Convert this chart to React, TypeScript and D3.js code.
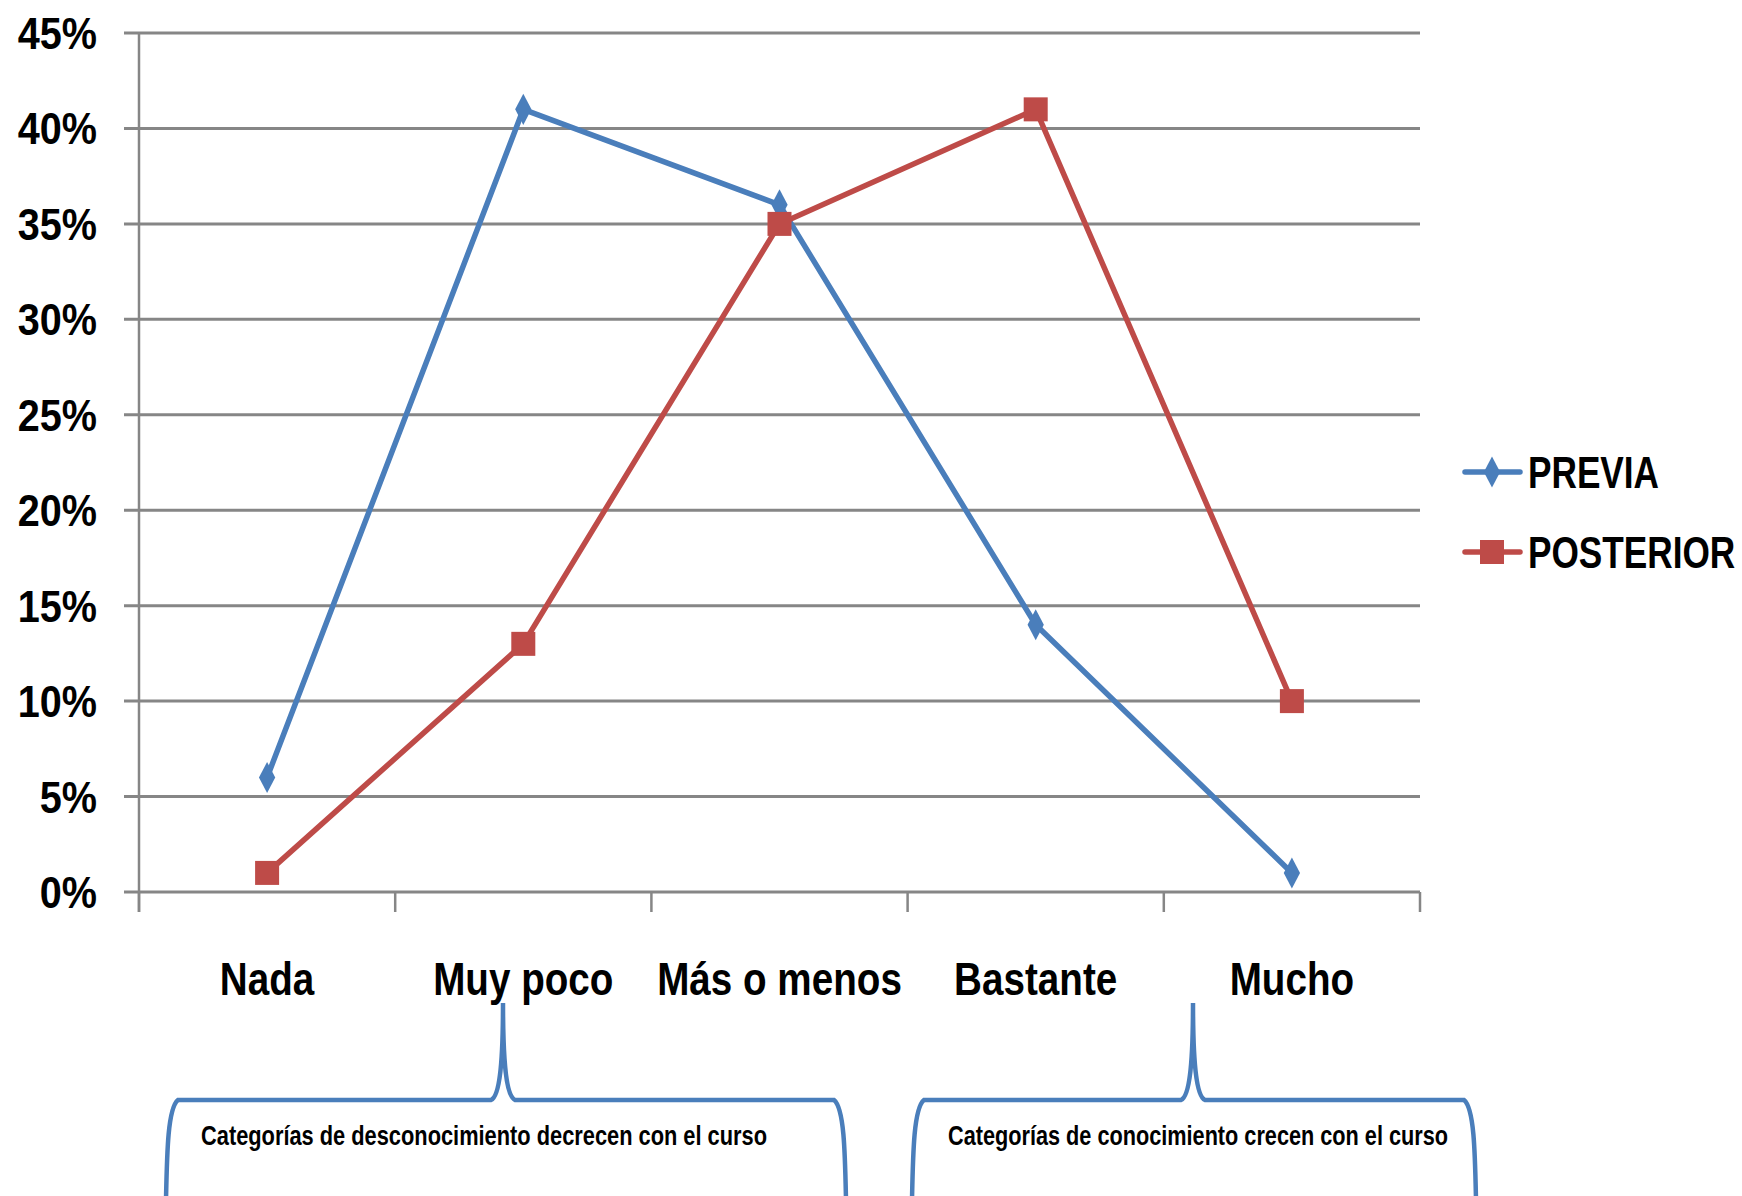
import React from "react";
import * as d3 from "d3";

const categories = ["Nada", "Muy poco", "Más o menos", "Bastante", "Mucho"];
const previa = [0.06, 0.41, 0.36, 0.14, 0.01];
const posterior = [0.01, 0.13, 0.35, 0.41, 0.1];
const yTicks = [0, 0.05, 0.1, 0.15, 0.2, 0.25, 0.3, 0.35, 0.4, 0.45];
const seriesNames = ["PREVIA", "POSTERIOR"];
const braceTexts = [
  "Categorías de desconocimiento decrecen con el curso",
  "Categorías de conocimiento crecen con el curso",
];

const W = 1742;
const H = 1196;
const BLUE = "#4A7EBB";
const RED = "#BE4B48";
const GRID = "#868686";
const FONT = "'Liberation Sans', Arial, sans-serif";

function bracePath(x0: number, x1: number, xp: number, yTop: number, yPeak: number, yBot: number) {
  return [
    `M ${x0 - 6} ${yBot}`,
    `C ${x0 - 5} ${yTop + 50} ${x0 - 4} ${yTop + 8} ${x0 + 6} ${yTop}`,
    `L ${xp - 12} ${yTop}`,
    `C ${xp - 3} ${yTop - 4} ${xp} ${yTop - 40} ${xp} ${yPeak}`,
    `C ${xp} ${yTop - 40} ${xp + 3} ${yTop - 4} ${xp + 12} ${yTop}`,
    `L ${x1 - 6} ${yTop}`,
    `C ${x1 + 4} ${yTop + 8} ${x1 + 5} ${yTop + 50} ${x1 + 6} ${yBot}`,
  ].join(" ");
}

type TProps = {
  x: number;
  y: number;
  sx: number;
  size: number;
  anchor?: "start" | "middle" | "end";
  children: React.ReactNode;
  textLength?: number;
};

function CText({ x, y, sx, size, anchor = "start", children, textLength }: TProps) {
  return (
    <text
      transform={`translate(${x},${y}) scale(${sx},1)`}
      textAnchor={anchor}
      fontFamily={FONT}
      fontWeight="bold"
      fontSize={size}
      fill="#000"
      textLength={textLength}
      lengthAdjust={textLength ? "spacingAndGlyphs" : undefined}
    >
      {children}
    </text>
  );
}

export default function App() {
  const left = 139;
  const right = 1420;
  const y = d3.scaleLinear().domain([0, 0.45]).range([892, 33]);
  const x = d3.scaleBand<string>().domain(categories).range([left, right]).padding(0);
  const cx = (c: string) => (x(c) as number) + x.bandwidth() / 2;

  const line = d3
    .line<number>()
    .x((_, i) => cx(categories[i]))
    .y((v) => y(v));

  const boundaries = [...categories.map((c) => x(c) as number), right];

  const diamond = d3.symbol().type(d3.symbolDiamond).size(230);

  const braces = [
    { x0: 172, x1: 840, xp: 503, text: braceTexts[0], tx: 201, tw: 566 },
    { x0: 918, x1: 1470, xp: 1193, text: braceTexts[1], tx: 948, tw: 500 },
  ];

  return (
    <svg
      width={W}
      height={H}
      viewBox={`0 0 ${W} ${H}`}
      style={{ position: "absolute", left: 0, top: 0, background: "#fff" }}
    >
      <rect x={0} y={0} width={W} height={H} fill="#fff" />
      {/* gridlines */}
      {yTicks.map((t) => (
        <line key={t} x1={left - 15} x2={right} y1={y(t)} y2={y(t)} stroke={GRID} strokeWidth={3} />
      ))}
      {/* y axis */}
      <line x1={left} x2={left} y1={y(0.45)} y2={y(0) + 20} stroke={GRID} strokeWidth={2.5} />
      {boundaries.map((b, i) => (
        <line key={i} x1={b} x2={b} y1={y(0)} y2={y(0) + 20} stroke={GRID} strokeWidth={2.5} />
      ))}
      {/* y labels */}
      {yTicks.map((t) => (
        <CText key={t} x={97} y={y(t) + 16} sx={0.9} size={44} anchor="end">
          {`${Math.round(t * 100)}%`}
        </CText>
      ))}
      {/* x labels */}
      {categories.map((c) => (
        <CText key={c} x={cx(c)} y={995} sx={0.84} size={46} anchor="middle">
          {c}
        </CText>
      ))}
      {/* series lines */}
      <path d={line(previa) || ""} fill="none" stroke={BLUE} strokeWidth={5.5} strokeLinejoin="round" />
      <path d={line(posterior) || ""} fill="none" stroke={RED} strokeWidth={5.5} strokeLinejoin="round" />
      {previa.map((v, i) => (
        <path
          key={i}
          d={diamond() || ""}
          transform={`translate(${cx(categories[i])},${y(v)}) scale(1,1.1)`}
          fill={BLUE}
        />
      ))}
      {posterior.map((v, i) => (
        <rect key={i} x={cx(categories[i]) - 12} y={y(v) - 12} width={24} height={24} fill={RED} />
      ))}
      {/* legend */}
      {seriesNames.map((s, i) => {
        const ly = 472 + i * 80;
        const col = i === 0 ? BLUE : RED;
        return (
          <g key={s}>
            <line x1={1465} x2={1520} y1={ly} y2={ly} stroke={col} strokeWidth={5.5} strokeLinecap="round" />
            {i === 0 ? (
              <path d={diamond() || ""} transform={`translate(1492,${ly}) scale(1,1.1)`} fill={col} />
            ) : (
              <rect x={1480} y={ly - 12} width={24} height={24} fill={col} />
            )}
            <CText x={1528} y={ly + 16} sx={0.8} size={44}>
              {s}
            </CText>
          </g>
        );
      })}
      {/* braces */}
      {braces.map((b, i) => (
        <g key={i}>
          <path
            d={bracePath(b.x0, b.x1, b.xp, 1100, 1003, 1200)}
            fill="none"
            stroke={BLUE}
            strokeWidth={4.5}
          />
          <CText x={b.tx} y={1145} sx={1} size={27} textLength={b.tw}>
            {b.text}
          </CText>
        </g>
      ))}
    </svg>
  );
}
